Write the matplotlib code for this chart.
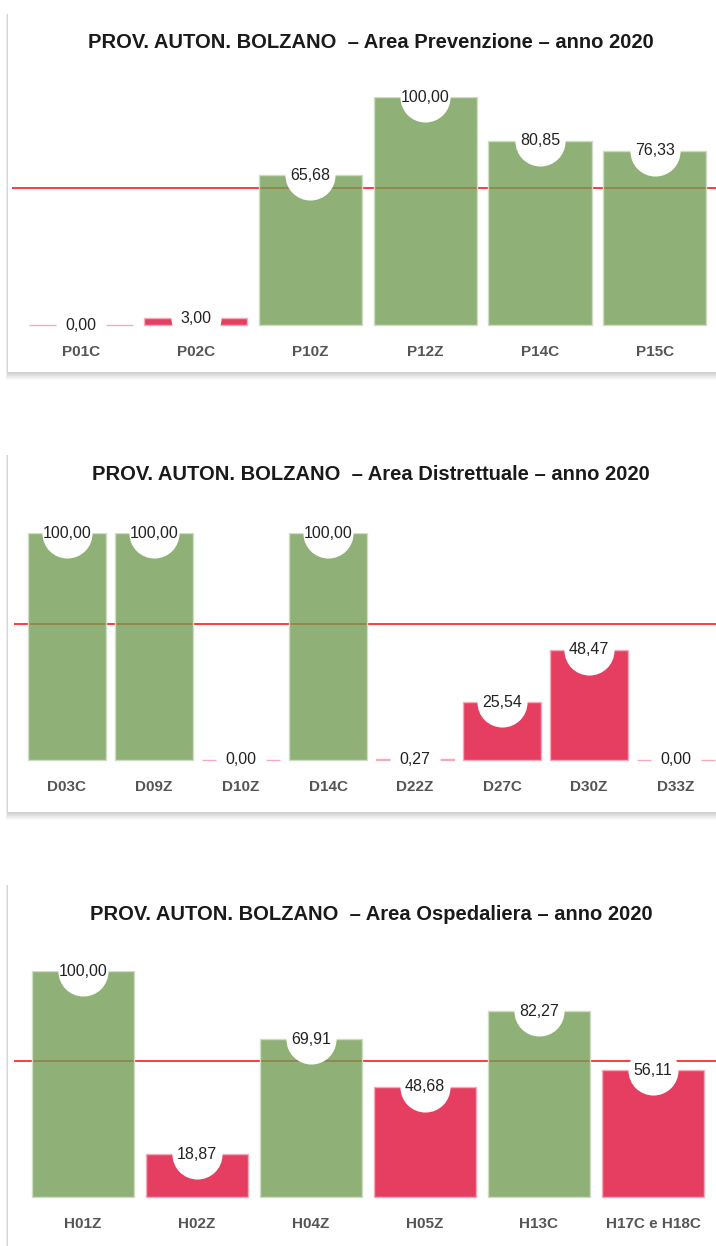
import matplotlib
matplotlib.use("Agg")
import matplotlib.pyplot as plt
from matplotlib.colors import to_rgb
from matplotlib.patches import Rectangle
import numpy as np

# data
prev_labels = ["P01C", "P02C", "P10Z", "P12Z", "P14C", "P15C"]
prev_values = [0.00, 3.00, 65.68, 100.00, 80.85, 76.33]

distr_labels = ["D03C", "D09Z", "D10Z", "D14C", "D22Z", "D27C", "D30Z", "D33Z"]
distr_values = [100.00, 100.00, 0.00, 100.00, 0.27, 25.54, 48.47, 0.00]

osp_labels = ["H01Z", "H02Z", "H04Z", "H05Z", "H13C", "H17C e H18C"]
osp_values = [100.00, 18.87, 69.91, 48.68, 82.27, 56.11]

titles = ["PROV. AUTON. BOLZANO  \u2013 Area Prevenzione \u2013 anno 2020",
          "PROV. AUTON. BOLZANO  \u2013 Area Distrettuale \u2013 anno 2020",
          "PROV. AUTON. BOLZANO  \u2013 Area Ospedaliera \u2013 anno 2020"]
threshold = 60

GREEN = "#739c54"
RED = "#e00e38"
W, H = 716, 1246

plt.rcParams['font.family'] = ['Liberation Sans', 'DejaVu Sans']
fig = plt.figure(figsize=(W / 100, H / 100), dpi=100)
fig.patch.set_facecolor("white")


def fx(px):
    return px / W


def fy(py):
    return 1 - py / H


def tint(c, a):
    # colour c seen at opacity a over white
    r = np.array(to_rgb(c))
    return tuple(a * r + (1 - a))


def card(top, bottom):
    # soft shadow under the card, then the white card itself
    for d in range(1, 9):
        fig.patches.append(Rectangle((fx(8 - d * 0.3), fy(bottom + d)),
                                     fx(760), (bottom + d - top - 2) / H,
                                     transform=fig.transFigure, facecolor="black",
                                     alpha=0.025, edgecolor="none", zorder=-3))
    fig.patches.append(Rectangle((fx(8), fy(bottom)), fx(760), (bottom - top) / H,
                                 transform=fig.transFigure, facecolor="white",
                                 edgecolor="none", zorder=-2))


def panel(labels, values, title, title_y, left, right, base, top100, line_x0):
    ppu = (base - top100) / 100.0
    bottom_px = base + ppu * 1.0
    ax = fig.add_axes([fx(left), fy(bottom_px), fx(right - left), (bottom_px - top100) / H])
    ax.set_zorder(2)
    ax.set_facecolor("none")
    x = np.arange(len(values))
    cols = [GREEN if v >= threshold else RED for v in values]
    ax.axhline(threshold, xmin=(line_x0 - left) / (right - left), xmax=1.02,
               color="#ff3b3b", lw=1.4, zorder=1, clip_on=False)
    ax.bar(x, values, width=0.9, color=[matplotlib.colors.to_rgba(c, 0.8) for c in cols],
           zorder=2, edgecolor=[tint(c, 0.35) for c in cols], linewidth=1.0)
    ax.scatter(x, values, s=1300, color="white", zorder=3, linewidths=0)
    for xi, v in zip(x, values):
        ax.text(xi, v, ("%.2f" % v).replace(".", ","), ha="center", va="center",
                fontsize=11.5, color="#222222", zorder=4)
    ax.set_xlim(-0.5, len(values) - 0.5)
    ax.set_ylim(-1, 100)
    ax.set_xticks(x)
    ax.set_xticklabels(labels, fontsize=11, fontweight="bold", color="#555555")
    ax.tick_params(axis="x", length=0, pad=12.5)
    ax.set_yticks([])
    for s in ax.spines.values():
        s.set_visible(False)
    fig.text(fx(371), fy(title_y), title, ha="center", va="center",
             fontsize=14.5, fontweight="bold", color="#1a1a1a")
    return ax


card(12, 372)
card(453, 812)
card(883, 1300)

panel(prev_labels, prev_values, titles[0], 42, 23.6, 712, 325, 97, 13)
panel(distr_labels, distr_values, titles[1], 475, 23.5, 719.5, 760, 533, 15)
panel(osp_labels, osp_values, titles[2], 915, 26, 710, 1197, 971, 15)

fig.savefig("out.png", dpi=100, facecolor="white")
